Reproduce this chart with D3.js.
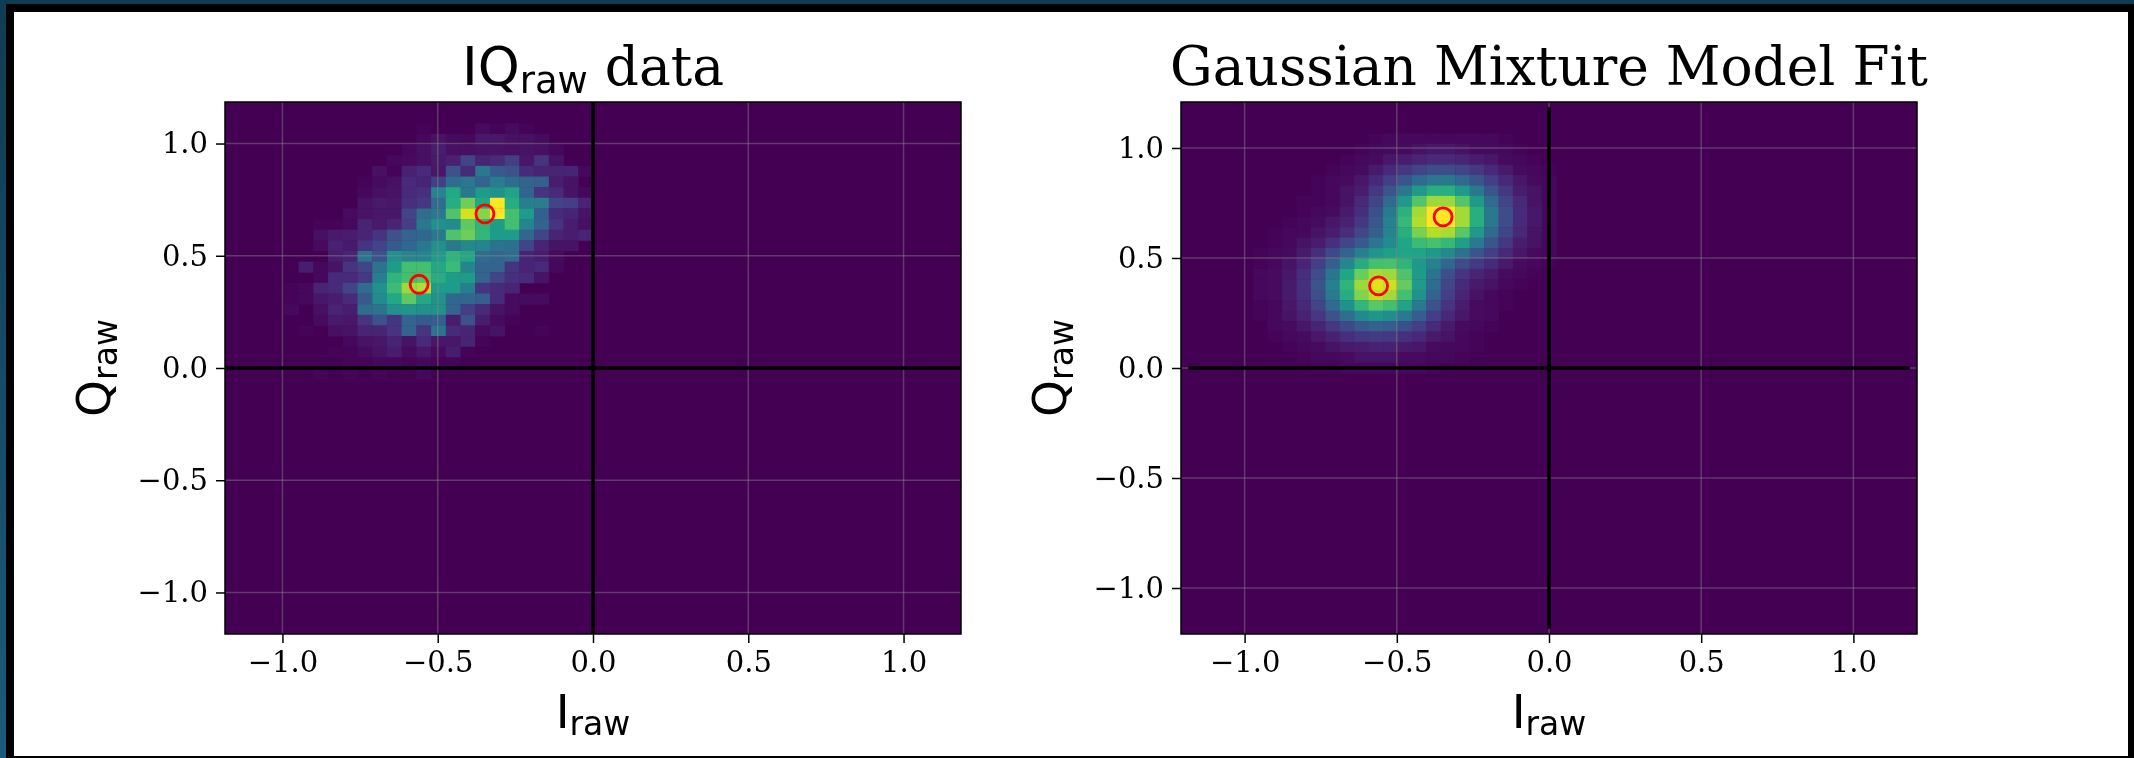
<!DOCTYPE html>
<html>
<head>
<meta charset="utf-8">
<script src="https://cdn.jsdelivr.net/npm/d3@7"></script>
<style>
    html, body { margin: 0; padding: 0; background: #fff; overflow: hidden; }
    svg { display: block; filter: blur(0.55px); }
    .tick text { font-family: "DejaVu Serif"; font-size: 29px; fill: #000; }
    .title { font-family: "DejaVu Serif"; font-size: 53.4px; fill: #000; }
    .label { font-family: "DejaVu Sans"; font-size: 47px; fill: #000; }
    .mathsans { font-family: "DejaVu Sans"; }
</style>
</head>
<body>
<svg width="2134" height="758"></svg>
<script>
// values, colour scale 0..1

const tickValues = [-1.0, -0.5, 0.0, 0.5, 1.0];

// I, Q of the two fitted centres
const centerI = [-0.348, -0.56];
const centerQ = [0.687, 0.373];

// left panel: 50 x 50 histogram, only the block that is not empty is listed
const rawBins = 50;
const rawFirstRow = 2;
const rawFirstCol = 4;
const rawCounts = [
    [0,0,0,0,0,0,0,0,0,.01,0,0,0,.03,.01,.03,.01,0,0,0,0],
    [0,0,0,0,0,0,0,0,0,.02,.05,.03,.02,.06,.06,.04,.04,.03,0,0,0],
    [0,0,0,0,0,0,0,0,.02,.04,.08,.04,.04,.05,.05,.04,.05,.04,.02,0,0],
    [0,0,0,0,0,0,0,.02,.03,.04,.07,.09,.2,.1,.12,.18,.06,.15,.05,0,0],
    [0,0,0,0,0,0,.04,.01,.09,.12,.06,.25,.12,.4,.28,.25,.12,.1,.1,.1,.02],
    [0,0,0,0,0,.01,.03,.04,.12,.1,.18,.35,.4,.32,.42,.35,.32,.3,.08,.05,0],
    [0,0,0,0,0,.02,.04,.05,.12,.14,.45,.6,.4,.55,.5,.58,.32,.15,.12,.05,.02],
    [0,0,0,0,0,.05,.07,.06,.14,.16,.35,.62,.78,.6,1,.62,.42,.42,.2,.18,.1],
    [0,0,0,0,.03,.05,.06,.06,.2,.35,.4,.72,.93,.82,1,.7,.55,.3,.12,.1,.05],
    [0,0,.01,.01,.02,.1,.07,.1,.18,.4,.5,.48,.75,.65,.55,.7,.45,.32,.15,.08,.04],
    [0,0,.04,.07,.08,.1,.15,.25,.32,.33,.4,.72,.78,.66,.55,.55,.33,.2,.1,.08,.1],
    [0,0,.03,.09,.07,.15,.2,.28,.33,.4,.5,.4,.47,.45,.38,.36,.2,.1,.05,.05,0],
    [0,0,0,.08,.1,.38,.25,.5,.45,.45,.55,.65,.6,.35,.33,.35,.1,.08,.03,0,0],
    [0,.08,.02,.05,.15,.2,.38,.55,.7,.7,.6,.68,.45,.32,.32,.15,.1,.12,.02,0,0],
    [0,0,.02,.12,.12,.17,.42,.65,.7,.72,.62,.55,.55,.32,.2,.14,.12,.05,0,0,0],
    [.01,.02,.1,.12,.2,.35,.5,.68,.85,.88,.55,.55,.42,.15,.12,.1,0,0,0,0,0],
    [.01,.02,.06,.08,.12,.28,.48,.6,.75,.6,.5,.33,.33,.3,.12,.03,.03,.03,0,0,0],
    [.02,0,.04,.1,.08,.35,.38,.5,.52,.5,.5,.33,.18,.12,.05,.03,0,0,0,0,0],
    [0,0,.03,.07,.06,.15,.25,.15,.32,.28,.3,.08,.25,.08,.03,.01,0,0,0,0,0],
    [0,.01,0,.04,.05,.1,.1,.15,.32,.15,.38,.12,.1,.03,.05,0,0,.01,0,0,0],
    [0,0,0,0,.02,.05,.06,.1,.05,.12,.06,.06,.1,.01,0,0,0,0,0,0,0],
    [0,0,0,.01,.01,.03,.05,.08,.03,.06,.03,.08,.01,0,0,0,0,0,0,0,0],
    [0,0,0,0,.01,.01,.02,.02,.01,.02,.01,.01,0,0,0,0,0,0,0,0,0],
    [0,0,.01,0,.01,0,.01,0,0,.02,0,0,0,0,0,0,0,0,0,0,0]
];

// right panel: 51 x 51 model grid, same idea
const fitBins = 51;
const fitFirstRow = 3;
const fitFirstCol = 5;
const fitValues = [
    [0,0,0,0,0,0,0,0,.01,.02,.02,.02,.02,.02,.02,.02,.02,.01,0,0,0],
    [0,0,0,0,0,0,0,.01,.02,.03,.03,.05,.06,.06,.05,.03,.03,.02,.01,0,0],
    [0,0,0,0,0,0,.01,.02,.03,.06,.08,.1,.12,.12,.1,.08,.06,.03,.02,.01,0],
    [0,0,0,0,0,.01,.02,.03,.07,.11,.16,.2,.23,.23,.2,.16,.11,.07,.03,.02,.01],
    [0,0,0,0,.01,.02,.03,.06,.11,.18,.26,.34,.4,.4,.34,.26,.18,.11,.06,.03,.02],
    [0,0,0,0,.01,.02,.05,.08,.16,.26,.4,.54,.63,.63,.54,.4,.26,.16,.08,.05,.02],
    [0,0,0,.01,.01,.02,.05,.11,.2,.34,.54,.73,.85,.85,.73,.54,.34,.2,.11,.05,.02],
    [0,0,0,.01,.02,.03,.07,.13,.24,.41,.64,.86,1,1,.86,.63,.4,.23,.12,.06,.02],
    [0,0,.01,.02,.03,.06,.09,.16,.27,.44,.67,.88,1,1,.86,.63,.4,.23,.12,.06,.02],
    [0,.01,.02,.02,.05,.08,.13,.21,.3,.45,.63,.8,.89,.87,.74,.54,.34,.2,.11,.05,.02],
    [0,.01,.02,.05,.08,.14,.21,.28,.39,.48,.59,.68,.71,.67,.56,.41,.26,.16,.08,.05,.02],
    [.01,.02,.03,.07,.13,.22,.32,.43,.52,.57,.59,.58,.54,.47,.37,.26,.18,.11,.06,.03,.02],
    [.01,.02,.05,.1,.18,.3,.46,.61,.7,.71,.65,.54,.44,.33,.23,.17,.12,.07,.03,.02,.01],
    [.02,.03,.06,.13,.23,.39,.59,.77,.87,.85,.72,.55,.38,.24,.15,.1,.07,.03,.02,.01,0],
    [.02,.03,.07,.14,.26,.43,.65,.85,.95,.92,.76,.55,.35,.21,.12,.07,.05,.02,.01,0,0],
    [.02,.03,.07,.13,.24,.41,.62,.81,.9,.86,.7,.5,.31,.18,.1,.05,.02,.01,0,0,0],
    [.01,.02,.06,.11,.2,.34,.51,.66,.74,.7,.58,.41,.25,.15,.08,.03,.02,.01,0,0,0],
    [.01,.02,.05,.09,.16,.25,.36,.47,.52,.49,.41,.29,.18,.11,.06,.03,.02,0,0,0,0],
    [0,.02,.03,.06,.1,.16,.22,.28,.31,.29,.24,.18,.12,.07,.03,.02,.01,0,0,0,0],
    [0,.01,.02,.03,.06,.09,.13,.16,.17,.16,.14,.11,.07,.05,.02,.01,0,0,0,0,0],
    [0,0,.01,.02,.03,.05,.07,.08,.09,.09,.07,.06,.03,.02,.02,.01,0,0,0,0,0],
    [0,0,0,.01,.02,.02,.03,.05,.05,.05,.03,.03,.02,.02,.01,0,0,0,0,0,0],
    [0,0,0,0,.01,.01,.02,.02,.02,.02,.02,.02,.01,0,0,0,0,0,0,0,0]
];

const svg = d3.select("svg");

// the screenshot frame round the figure
const defs = svg.append("defs");
const grad = defs.append("linearGradient").attr("id", "edge")
    .attr("x1", 0).attr("y1", 0).attr("x2", 0).attr("y2", 1);
grad.append("stop").attr("offset", "0%").attr("stop-color", "#0f3c52");
grad.append("stop").attr("offset", "100%").attr("stop-color", "#1a5a7c");

svg.append("rect").attr("width", 2134).attr("height", 758).attr("fill", "url(#edge)");
svg.append("rect").attr("x", 6).attr("y", 4).attr("width", 2128).attr("height", 754).attr("fill", "#000");
svg.append("rect").attr("x", 14).attr("y", 12).attr("width", 2114).attr("height", 744).attr("fill", "#fff");

function makePanel(p) {
    const width = 736;
    const height = 532;

    const chart = svg.append("g")
        .attr("transform", `translate(${p.left}, 102)`);

    const xScale = d3.scaleLinear().domain([-p.extent, p.extent]).range([0, width]);
    const yScale = d3.scaleLinear().domain([-p.extent, p.extent]).range([height, 0]);
    const colBand = d3.scaleBand().domain(d3.range(p.bins)).range([0, width]);
    const rowBand = d3.scaleBand().domain(d3.range(p.bins)).range([0, height]);

    // empty cells first, so the whole mesh is there
    chart.append("rect")
        .attr("width", width)
        .attr("height", height)
        .attr("fill", d3.interpolateViridis(0));

    const cells = [];
    p.values.forEach((row, r) => row.forEach((v, c) => {
        if (v > 0) cells.push({ row: r + p.firstRow, col: c + p.firstCol, v: v });
    }));

    chart.selectAll(".cell")
        .data(cells)
        .enter()
        .append("rect")
        .attr("class", "cell")
        .attr("x", d => colBand(d.col))
        .attr("y", d => rowBand(d.row))
        .attr("width", colBand.bandwidth() + 0.4)
        .attr("height", rowBand.bandwidth() + 0.4)
        .attr("fill", d => d3.interpolateViridis(d.v));

    // grid
    chart.selectAll(".gx")
        .data(tickValues)
        .enter()
        .append("line")
        .attr("x1", d => xScale(d)).attr("x2", d => xScale(d))
        .attr("y1", 0).attr("y2", height)
        .attr("stroke", "#8a8a8a").attr("stroke-opacity", 0.42).attr("stroke-width", 1.5);
    chart.selectAll(".gy")
        .data(tickValues)
        .enter()
        .append("line")
        .attr("y1", d => yScale(d)).attr("y2", d => yScale(d))
        .attr("x1", 0).attr("x2", width)
        .attr("stroke", "#8a8a8a").attr("stroke-opacity", 0.42).attr("stroke-width", 1.5);

    // black zero lines
    chart.append("line")
        .attr("x1", xScale(-1.185)).attr("x2", xScale(1.185))
        .attr("y1", yScale(0)).attr("y2", yScale(0))
        .attr("stroke", "#000").attr("stroke-width", 3.6);
    chart.append("line")
        .attr("x1", xScale(0)).attr("x2", xScale(0))
        .attr("y1", yScale(1.185)).attr("y2", yScale(-1.185))
        .attr("stroke", "#000").attr("stroke-width", 3.6);

    chart.selectAll(".center")
        .data(centerI)
        .enter()
        .append("circle")
        .attr("cx", d => xScale(d))
        .attr("cy", (d, i) => yScale(centerQ[i]))
        .attr("r", 9)
        .attr("fill", "none")
        .attr("stroke", "#f00")
        .attr("stroke-width", 2.8);

    // axes
    const xAxis = chart.append("g")
        .attr("transform", `translate(0, ${height})`)
        .call(d3.axisBottom(xScale).tickValues(tickValues).tickSize(9).tickPadding(8).tickFormat(d3.format(".1f")));
    const yAxis = chart.append("g")
        .call(d3.axisLeft(yScale).tickValues(tickValues).tickSize(9).tickPadding(8).tickFormat(d3.format(".1f")));
    xAxis.select(".domain").remove();
    yAxis.select(".domain").remove();
    chart.selectAll(".tick line").attr("stroke", "#000").attr("stroke-width", 1.5);

    chart.append("rect")
        .attr("width", width)
        .attr("height", height)
        .attr("fill", "none")
        .attr("stroke", "#000")
        .attr("stroke-width", 1.5);

    // title
    const title = chart.append("text")
        .attr("class", "title")
        .attr("x", width / 2)
        .attr("y", -17)
        .attr("text-anchor", "middle");
    p.title(title);

    // axis labels
    const xLabel = chart.append("text")
        .attr("class", "label")
        .attr("x", xScale(0))
        .attr("y", height + 94)
        .attr("text-anchor", "middle");
    xLabel.append("tspan").text("I");
    xLabel.append("tspan").attr("dy", 7).attr("font-size", 33).text("raw");

    const yLabel = chart.append("text")
        .attr("class", "label")
        .attr("transform", `translate(-115, ${height / 2}) rotate(-90)`)
        .attr("text-anchor", "middle");
    yLabel.append("tspan").text("Q");
    yLabel.append("tspan").attr("dy", 7).attr("font-size", 33).text("raw");
}

makePanel({
    left: 225, extent: 1.185, bins: rawBins,
    firstRow: rawFirstRow, firstCol: rawFirstCol, values: rawCounts,
    title: t => {
        t.append("tspan").attr("class", "mathsans").text("IQ");
        t.append("tspan").attr("class", "mathsans").attr("dy", 8).attr("font-size", 37).text("raw");
        t.append("tspan").attr("dy", -8).text(" data");
    }
});

makePanel({
    left: 1181, extent: 1.209, bins: fitBins,
    firstRow: fitFirstRow, firstCol: fitFirstCol, values: fitValues,
    title: t => t.text("Gaussian Mixture Model Fit")
});
</script>
</body>
</html>
